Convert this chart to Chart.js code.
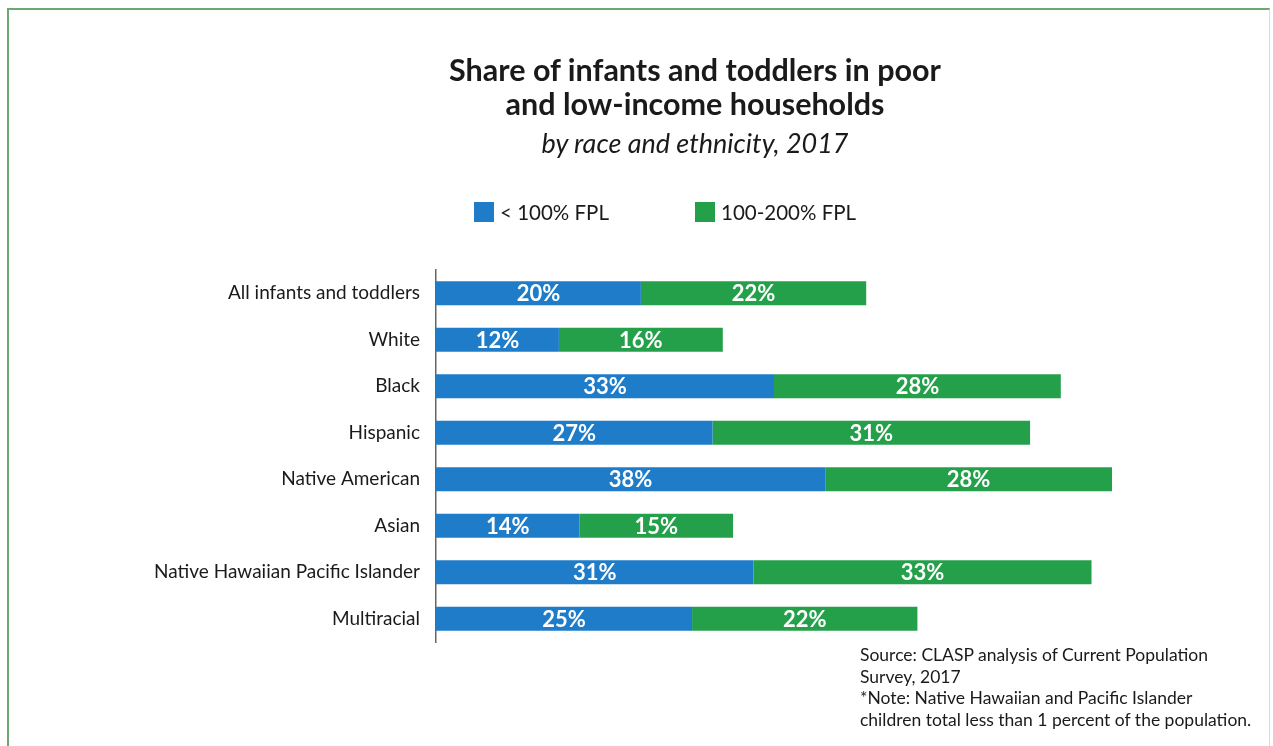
<!DOCTYPE html>
<html>
<head>
<meta charset="utf-8">
<script src="https://cdn.jsdelivr.net/npm/chart.js@4"></script>
<style>
  html, body { margin: 0; padding: 0; background: #fff; }
  body { width: 1273px; height: 746px; position: relative; overflow: hidden; font-family: Lato, "Noto Sans", sans-serif; color: #1a1a1a; }
  .frame { position: absolute; left: 7px; top: 8px; width: 1263px; height: 760px; border: 2px solid #6aa96f; border-right: 1px solid #cfe0cf; box-sizing: border-box; }
  #chart { position: absolute; left: 0; top: 0; }
  .title { position: absolute; left: 345px; width: 700px; text-align: center; }
  .t1 { top: 52px; font-size: 30.5px; font-weight: bold; line-height: 34px; }
  .t2 { top: 126px; font-size: 27px; font-style: italic; }
  .legend { position: absolute; top: 200px; font-size: 20.5px; display: flex; align-items: center; }
  .legend span.sw { display: inline-block; width: 20px; height: 20px; margin-right: 6px; }
  .source { position: absolute; left: 860px; top: 644px; font-size: 17.5px; line-height: 21.7px; }
</style>
</head>
<body>
<div class="frame"></div>
<canvas id="chart" width="1273" height="746"></canvas>
<div class="title t1">Share of infants and toddlers in poor<br>and low-income households</div>
<div class="title t2">by race and ethnicity, 2017</div>
<div class="legend" style="left:474px"><span class="sw" style="background:#1f7cc8"></span>&lt; 100% FPL</div>
<div class="legend" style="left:695px"><span class="sw" style="background:#24a04a"></span>100-200% FPL</div>
<div class="source">Source: CLASP analysis of Current Population<br>Survey, 2017<br>*Note: Native Hawaiian and Pacific Islander<br>children total less than 1 percent of the population.</div>
<script>
const categories = ['All infants and toddlers', 'White', 'Black', 'Hispanic', 'Native American', 'Asian', 'Native Hawaiian Pacific Islander', 'Multiracial'];
const below100 = [20, 12, 33, 27, 38, 14, 31, 25];
const from100to200 = [22, 16, 28, 31, 28, 15, 33, 22];
const seriesNames = ['< 100% FPL', '100-200% FPL'];

// white percent labels in the middle of each segment
const barLabels = {
  id: 'barLabels',
  afterDatasetsDraw(chart) {
    const ctx = chart.ctx;
    ctx.save();
    ctx.fillStyle = '#fff';
    ctx.font = 'bold 22px Lato, "Noto Sans", sans-serif';
    ctx.textAlign = 'center';
    ctx.textBaseline = 'middle';
    chart.data.datasets.forEach((ds, i) => {
      chart.getDatasetMeta(i).data.forEach((bar, j) => {
        ctx.fillText(ds.data[j] + '%', (bar.x + bar.base) / 2, bar.y + 1);
      });
    });
    ctx.restore();
  }
};

new Chart(document.getElementById('chart'), {
  type: 'bar',
  data: {
    labels: categories,
    datasets: [
      { label: seriesNames[0], data: below100, backgroundColor: '#1f7cc8' },
      { label: seriesNames[1], data: from100to200, backgroundColor: '#24a04a' }
    ]
  },
  options: {
    indexAxis: 'y',
    responsive: false,
    animation: false,
    layout: { padding: { top: 270, bottom: 104, left: 0, right: 120 } },
    barPercentage: 0.52,
    categoryPercentage: 1,
    plugins: { legend: { display: false }, tooltip: { enabled: false } },
    scales: {
      x: { stacked: true, min: 0, max: 70, display: false },
      y: {
        stacked: true,
        afterFit(scale) { scale.width = 436; },
        grid: { display: false },
        border: { display: true, color: '#666', width: 1.5 },
        ticks: { color: '#1a1a1a', padding: 8, font: { size: 19, family: 'Lato, "Noto Sans", sans-serif' } }
      }
    }
  },
  plugins: [barLabels]
});
</script>
</body>
</html>
